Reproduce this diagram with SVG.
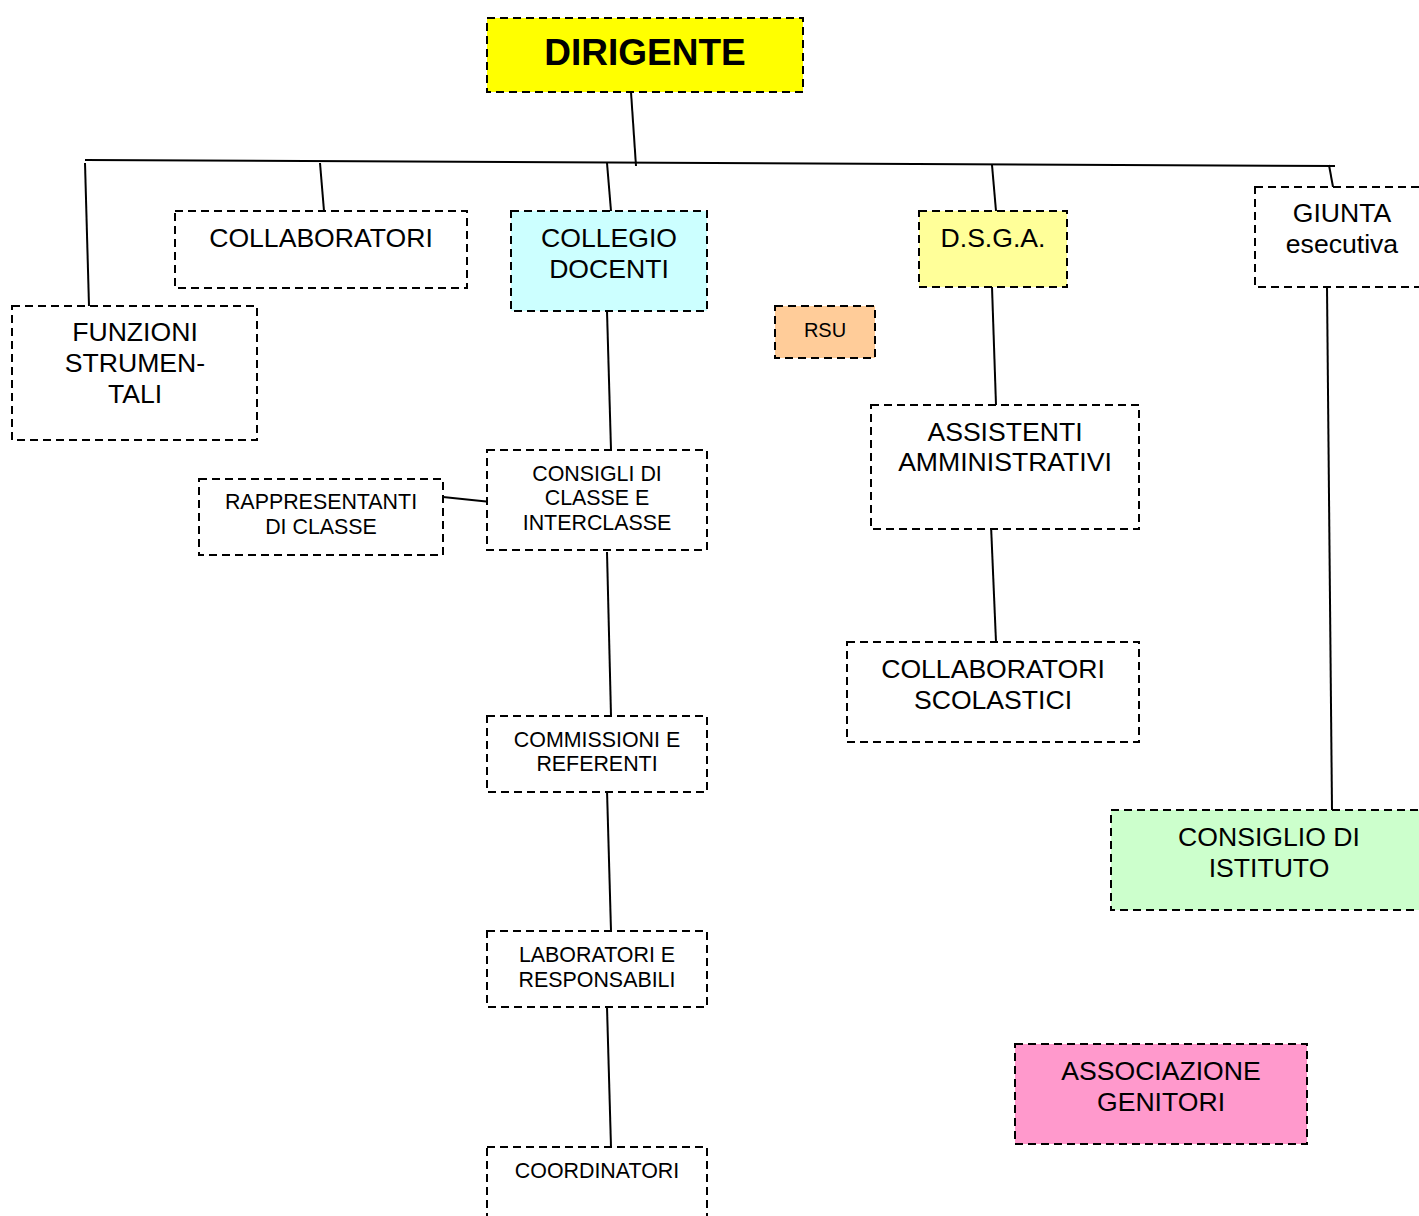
<svg xmlns="http://www.w3.org/2000/svg" width="1419" height="1216" viewBox="0 0 1419 1216">
<style>
.box{stroke:#000;stroke-width:2;stroke-dasharray:8,5;fill:#fff}
.t{font-family:"Liberation Sans",Arial,sans-serif;font-size:26.6px;fill:#000;text-anchor:middle}
.s{font-size:21.4px}
.c{stroke:#000;stroke-width:2;fill:none}
</style>
<rect width="1419" height="1216" fill="#fff"/>
<g id="connectors">
<line class="c" x1="85" y1="160" x2="1335" y2="166"/>
<line class="c" x1="631" y1="92" x2="636" y2="166"/>
<line class="c" x1="85" y1="163" x2="89" y2="306"/>
<line class="c" x1="320" y1="163" x2="324" y2="211"/>
<line class="c" x1="607" y1="163" x2="611" y2="211"/>
<line class="c" x1="992" y1="165" x2="996" y2="211"/>
<line class="c" x1="1329" y1="165" x2="1333" y2="187"/>
<line class="c" x1="607" y1="311" x2="611" y2="450"/>
<line class="c" x1="443" y1="497" x2="491" y2="502"/>
<line class="c" x1="607" y1="552" x2="611" y2="716"/>
<line class="c" x1="607" y1="790" x2="611" y2="931"/>
<line class="c" x1="607" y1="1007" x2="611" y2="1147"/>
<line class="c" x1="992" y1="287" x2="996" y2="405"/>
<line class="c" x1="991" y1="525" x2="996" y2="642"/>
<line class="c" x1="1327" y1="287" x2="1332" y2="810"/>
</g>
<g id="dirigente">
<rect class="box" x="487" y="18" width="316" height="74" style="fill:#FFFF00"/>
<text class="t" x="645" y="65" style="font-size:37px;font-weight:bold">DIRIGENTE</text>
</g>
<g id="collaboratori">
<rect class="box" x="175" y="211" width="292" height="77"/>
<text class="t" x="321" y="247">COLLABORATORI</text>
</g>
<g id="funzioni">
<rect class="box" x="12" y="306" width="245" height="134"/>
<text class="t" x="135" y="341">FUNZIONI</text>
<text class="t" x="135" y="372">STRUMEN-</text>
<text class="t" x="135" y="403">TALI</text>
</g>
<g id="collegio">
<rect class="box" x="511" y="211" width="196" height="100" style="fill:#CCFFFF"/>
<text class="t" x="609" y="247">COLLEGIO</text>
<text class="t" x="609" y="278">DOCENTI</text>
</g>
<g id="dsga">
<rect class="box" x="919" y="211" width="148" height="76" style="fill:#FFFF99"/>
<text class="t" x="993" y="247">D.S.G.A.</text>
</g>
<g id="giunta">
<rect class="box" x="1255" y="187" width="170" height="100"/>
<text class="t" x="1342" y="222">GIUNTA</text>
<text class="t" x="1342" y="253">esecutiva</text>
</g>
<g id="rsu">
<rect class="box" x="775" y="306" width="100" height="52" style="fill:#FFCC99"/>
<text class="t" x="825" y="337" style="font-size:20px">RSU</text>
</g>
<g id="consigli">
<rect class="box" x="487" y="450" width="220" height="100"/>
<text class="t s" x="597" y="481">CONSIGLI DI</text>
<text class="t s" x="597" y="505">CLASSE E</text>
<text class="t s" x="597" y="530">INTERCLASSE</text>
</g>
<g id="rappresentanti">
<rect class="box" x="199" y="479" width="244" height="76"/>
<text class="t s" x="321" y="509">RAPPRESENTANTI</text>
<text class="t s" x="321" y="534">DI CLASSE</text>
</g>
<g id="commissioni">
<rect class="box" x="487" y="716" width="220" height="76"/>
<text class="t s" x="597" y="747">COMMISSIONI E</text>
<text class="t s" x="597" y="771">REFERENTI</text>
</g>
<g id="laboratori">
<rect class="box" x="487" y="931" width="220" height="76"/>
<text class="t s" x="597" y="962">LABORATORI E</text>
<text class="t s" x="597" y="987">RESPONSABILI</text>
</g>
<g id="coordinatori">
<rect class="box" x="487" y="1147" width="220" height="90"/>
<text class="t s" x="597" y="1178">COORDINATORI</text>
</g>
<g id="assistenti">
<rect class="box" x="871" y="405" width="268" height="124"/>
<text class="t" x="1005" y="441">ASSISTENTI</text>
<text class="t" x="1005" y="471">AMMINISTRATIVI</text>
</g>
<g id="collaboratori-scolastici">
<rect class="box" x="847" y="642" width="292" height="100"/>
<text class="t" x="993" y="678">COLLABORATORI</text>
<text class="t" x="993" y="709">SCOLASTICI</text>
</g>
<g id="consiglio-istituto">
<rect class="box" x="1111" y="810" width="316" height="100" style="fill:#CCFFCC"/>
<text class="t" x="1269" y="846">CONSIGLIO DI</text>
<text class="t" x="1269" y="877">ISTITUTO</text>
</g>
<g id="associazione">
<rect class="box" x="1015" y="1044" width="292" height="100" style="fill:#FF99CC"/>
<text class="t" x="1161" y="1080">ASSOCIAZIONE</text>
<text class="t" x="1161" y="1111">GENITORI</text>
</g>
</svg>
